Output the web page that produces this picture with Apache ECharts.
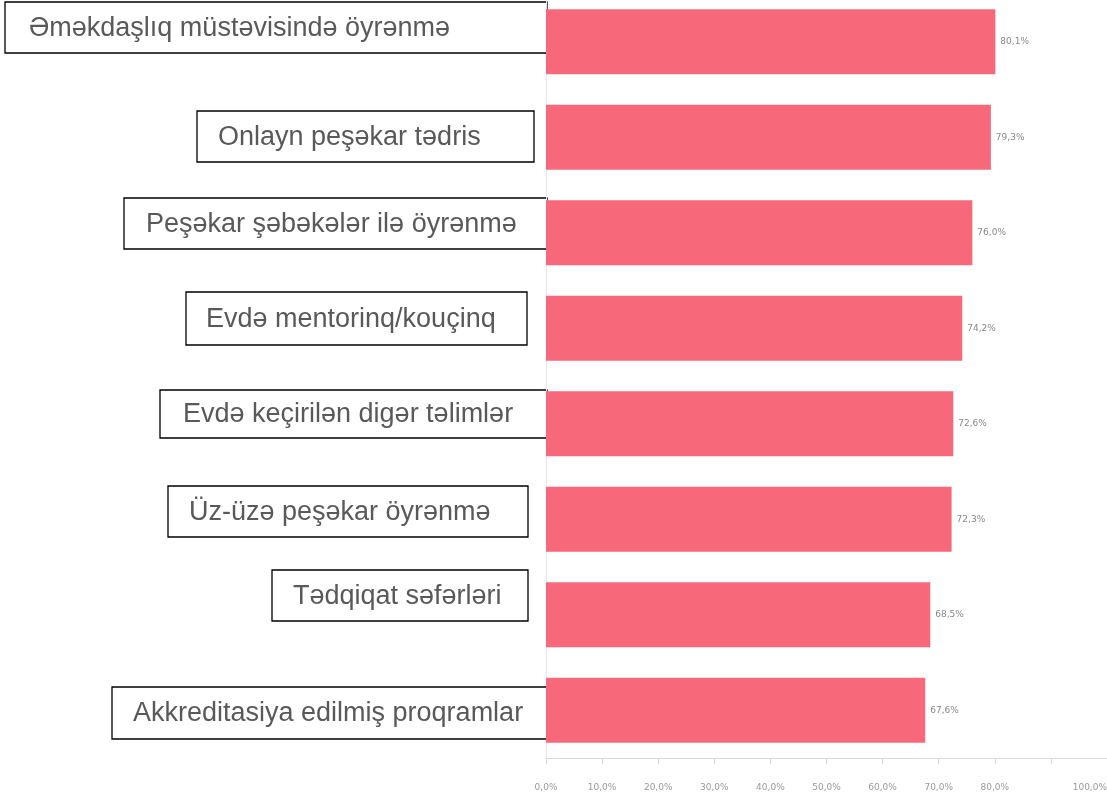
<!DOCTYPE html>
<html>
<head>
<meta charset="utf-8">
<script src="https://cdn.jsdelivr.net/npm/echarts@6/dist/echarts.min.js"></script>
<style>
  html, body { margin: 0; padding: 0; background: #fff; }
  #chart { width: 1107px; height: 798px; }
</style>
</head>
<body>
<div id="chart"></div>
<script>
// kateqoriyalar (yuxarıdan aşağı)
const categories = [
  'Əməkdaşlıq müstəvisində öyrənmə',
  'Onlayn peşəkar tədris',
  'Peşəkar şəbəkələr ilə öyrənmə',
  'Evdə mentorinq/kouçinq',
  'Evdə keçirilən digər təlimlər',
  'Üz-üzə peşəkar öyrənmə',
  'Tədqiqat səfərləri',
  'Akkreditasiya edilmiş proqramlar'
]
const values = [80.1, 79.3, 76.0, 74.2, 72.6, 72.3, 68.5, 67.6]
// x oxunun yazıları (90 yoxdur)
const tickLabels = ['0,0%', '10,0%', '20,0%', '30,0%', '40,0%', '50,0%', '60,0%', '70,0%', '80,0%', '', '100,0%']

// yazı qutularının yeri: [sol, yuxarı, sağ, aşağı, mətn aralığı]
const boxes = [
  [5, 2, 547, 53, 24],
  [197, 111, 534, 162, 21],
  [124, 198, 547, 249, 22],
  [186, 292, 527, 345, 20],
  [160, 390, 547, 438, 23],
  [168, 486, 528, 537, 21],
  [272, 570, 528, 621, 21],
  [112, 687, 547, 739, 21]
]

function pct(v) {
  return v.toFixed(1).replace('.', ',') + '%'
}

const graphic = boxes.map((b, i) => ({
  type: 'group',
  z: 100,
  children: [
    {
      type: 'rect',
      shape: { x: b[0], y: b[1], width: b[2] - b[0], height: b[3] - b[1] },
      style: { fill: '#fff', stroke: '#000', lineWidth: 1.3 }
    },
    {
      type: 'text',
      x: b[0] + b[4],
      y: (b[1] + b[3]) / 2 + 1,
      style: {
        text: categories[i],
        font: '27px "Liberation Sans", Arial, sans-serif',
        fill: '#595959',
        verticalAlign: 'middle'
      }
    }
  ]
}))

const chart = echarts.init(document.getElementById('chart'))
chart.setOption({
  animation: false,
  grid: { left: 546, width: 561, top: -6, height: 764, outerBoundsMode: 'none' },
  xAxis: {
    type: 'value',
    min: 0,
    max: 100,
    interval: 10,
    splitLine: { show: false },
    axisLine: { show: true, lineStyle: { color: '#d9d9d9' } },
    axisTick: { show: true, length: 6, lineStyle: { color: '#d9d9d9' } },
    axisLabel: {
      margin: 25,
      fontSize: 9,
      color: '#999',
      fontFamily: 'DejaVu Sans',
      alignMaxLabel: 'right',
      formatter: v => tickLabels[Math.round(v / 10)]
    }
  },
  yAxis: {
    type: 'category',
    inverse: true,
    data: categories,
    axisLabel: { show: false },
    axisTick: { show: false },
    axisLine: { show: true, lineStyle: { color: '#e6e6e6' } }
  },
  series: [{
    type: 'bar',
    data: values,
    barWidth: 65,
    itemStyle: { color: '#f7687a' },
    label: {
      show: true,
      position: 'right',
      distance: 5,
      fontSize: 9,
      color: '#888',
      fontFamily: 'DejaVu Sans',
      formatter: p => pct(p.value)
    }
  }],
  graphic
})
</script>
</body>
</html>
